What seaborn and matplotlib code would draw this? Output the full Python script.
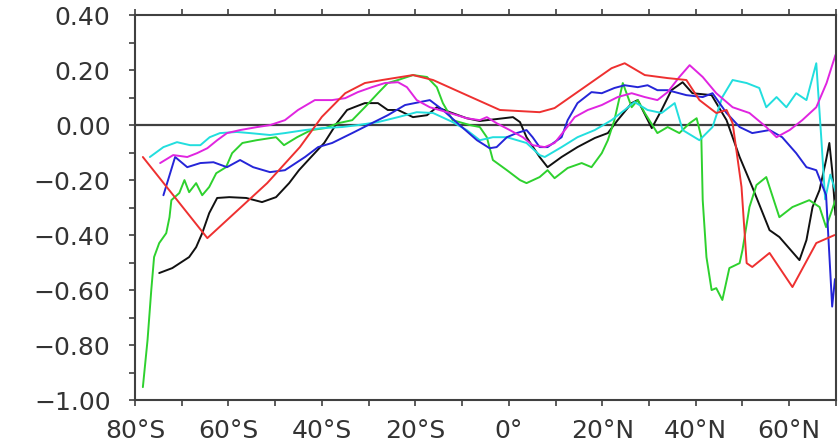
import pandas as pd
import matplotlib
matplotlib.use("Agg")
import matplotlib.pyplot as plt
import seaborn as sns
from matplotlib.ticker import FixedLocator, FuncFormatter

# zonal mean curves, latitude (deg, S negative) vs value
red_lat = [-78.3, -64.5, -51.7, -44.7, -40.0, -35.0, -30.8, -27.1, -20.5, -16.2, -9.0, -1.9, 6.6, 9.8,
           16.2, 22.0, 24.8, 29.1, 34.0, 38.0, 40.8, 44.4, 46.6, 47.9, 49.8, 50.9, 52.1, 55.8, 60.7,
           65.8, 69.7]
red_val = [-0.116, -0.411, -0.211, -0.08, 0.03, 0.116, 0.153, 0.164, 0.182, 0.164, 0.109, 0.055, 0.047,
           0.062, 0.138, 0.207, 0.225, 0.182, 0.171, 0.164, 0.091, 0.044, 0.055, 0.007, -0.225, -0.502,
           -0.516, -0.465, -0.589, -0.429, -0.40]

blue_lat = [-73.9, -71.4, -68.8, -66.0, -63.2, -60.3, -57.5, -54.7, -51.1, -47.9, -43.6, -40.8, -37.8,
            -33.5, -29.3, -25.9, -22.2, -16.9, -14.1, -10.5, -6.8, -4.1, -2.6, -0.4, 1.7, 3.8, 5.1, 6.6,
            8.3, 11.3, 12.6, 14.7, 17.7, 19.9, 22.6, 24.8, 27.6, 29.7, 31.8, 34.0, 38.0, 41.5, 43.6, 46.6,
            49.4, 52.1, 55.8, 58.5, 61.5, 63.7, 65.8, 67.9, 69.2, 69.8]
blue_val = [-0.255, -0.116, -0.153, -0.138, -0.135, -0.153, -0.127, -0.153, -0.171, -0.164, -0.116,
            -0.08, -0.065, -0.029, 0.007, 0.036, 0.073, 0.091, 0.055, 0.0, -0.055, -0.084, -0.08, -0.044,
            -0.029, -0.018, -0.044, -0.08, -0.08, -0.044, 0.018, 0.08, 0.12, 0.116, 0.135, 0.145, 0.138,
            0.145, 0.127, 0.127, 0.109, 0.102, 0.116, 0.044, -0.007, -0.029, -0.018, -0.044, -0.102,
            -0.153, -0.164, -0.255, -0.66, -0.56]

magenta_lat = [-74.6, -71.8, -68.8, -66.7, -64.5, -62.4, -60.3, -57.5, -53.8, -51.1, -47.9, -45.1, -41.5,
               -37.8, -35.0, -32.3, -29.3, -26.5, -23.7, -21.8, -19.7, -16.9, -12.6, -9.0, -6.2, -4.7,
               -2.6, 0.2, 3.0, 5.1, 7.7, 9.8, 12.0, 14.1, 16.9, 19.9, 23.3, 26.3, 29.1, 31.8, 34.0, 36.5,
               38.7, 41.5, 44.4, 47.9, 51.5, 55.1, 57.3, 60.1, 62.8, 65.8, 68.0, 69.9]
magenta_val = [-0.138, -0.109, -0.116, -0.102, -0.084, -0.055, -0.029, -0.018, -0.007, 0.0, 0.018, 0.055,
               0.091, 0.091, 0.098, 0.12, 0.138, 0.153, 0.156, 0.138, 0.091, 0.065, 0.044, 0.025, 0.018,
               0.029, 0.007, -0.018, -0.044, -0.073, -0.08, -0.065, -0.018, 0.029, 0.055, 0.073, 0.102,
               0.116, 0.102, 0.091, 0.12, 0.175, 0.218, 0.175, 0.116, 0.065, 0.044, -0.007, -0.044,
               -0.018, 0.018, 0.065, 0.153, 0.255]

cyan_lat = [-76.8, -73.9, -71.0, -68.2, -66.0, -64.0, -61.8, -58.2, -55.4, -51.1, -47.9, -43.6, -40.0,
            -35.7, -32.3, -28.0, -23.7, -19.7, -16.2, -12.0, -9.0, -6.2, -3.4, -0.4, 3.8, 6.6, 7.7, 11.3,
            14.7, 18.4, 22.0, 24.8, 26.9, 29.7, 32.7, 35.5, 37.2, 40.8, 43.6, 45.7, 47.9, 50.9, 53.6, 55.1,
            57.3, 59.4, 61.5, 63.7, 65.8, 66.9, 67.7, 68.8, 69.9]
cyan_val = [-0.116, -0.08, -0.062, -0.073, -0.073, -0.044, -0.029, -0.025, -0.029, -0.036, -0.029,
            -0.018, -0.011, -0.007, 0.0, 0.011, 0.029, 0.047, 0.044, 0.011, -0.018, -0.055, -0.044,
            -0.044, -0.065, -0.109, -0.116, -0.08, -0.044, -0.018, 0.018, 0.055, 0.084, 0.055, 0.044,
            0.08, -0.018, -0.055, -0.007, 0.102, 0.164, 0.153, 0.135, 0.065, 0.102, 0.065, 0.116, 0.091,
            0.225, -0.055, -0.27, -0.18, -0.24]

green_lat = [-78.3, -77.3, -76.5, -75.9, -74.8, -73.3, -72.6, -72.2, -70.5, -69.4, -68.4, -66.9, -65.6,
             -64.1, -62.6, -60.5, -59.2, -57.0, -54.0, -49.8, -48.1, -45.3, -42.3, -39.3, -36.5, -33.5,
             -30.8, -28.0, -25.9, -23.7, -20.5, -17.5, -15.4, -14.1, -12.0, -8.3, -6.2, -4.7, -3.4, -0.4,
             2.4, 3.8, 6.6, 8.3, 9.8, 12.6, 15.6, 17.7, 19.9, 21.2, 22.6, 24.4, 26.3, 27.6, 29.1, 31.8,
             34.0, 36.5, 38.7, 40.2, 41.2, 41.5, 42.3, 43.4, 44.4, 45.7, 47.2, 49.4, 50.0, 51.5, 53.0,
             55.1, 57.9, 60.7, 64.3, 66.5, 67.9, 69.9]
green_val = [-0.953, -0.782, -0.60, -0.48, -0.429, -0.393, -0.335, -0.273, -0.247, -0.20, -0.244, -0.211,
             -0.255, -0.225, -0.175, -0.153, -0.102, -0.065, -0.055, -0.044, -0.073, -0.044, -0.018,
             -0.011, 0.007, 0.018, 0.065, 0.116, 0.153, 0.164, 0.182, 0.175, 0.138, 0.08, 0.018, 0.0,
             -0.007, -0.044, -0.127, -0.164, -0.20, -0.211, -0.189, -0.164, -0.193, -0.156, -0.138,
             -0.153, -0.102, -0.055, 0.018, 0.153, 0.065, 0.091, 0.044, -0.029, -0.007, -0.029, 0.007,
             0.025, -0.044, -0.273, -0.48, -0.60, -0.593, -0.636, -0.52, -0.502, -0.455, -0.298, -0.218,
             -0.189, -0.335, -0.298, -0.273, -0.298, -0.371, -0.273]

black_lat = [-74.8, -72.0, -68.4, -66.9, -65.6, -64.1, -62.4, -59.8, -56.2, -52.8, -49.8, -47.0, -44.9,
             -42.3, -39.5, -36.8, -34.6, -33.1, -30.8, -28.0, -25.9, -23.7, -20.5, -17.5, -15.4, -12.6,
             -9.0, -6.2, -2.6, 0.9, 2.4, 3.8, 6.6, 8.3, 11.3, 14.7, 18.4, 21.2, 23.3, 26.3, 27.6, 30.6,
             32.7, 34.8, 37.2, 39.3, 43.4, 46.6, 49.4, 52.1, 55.8, 57.9, 62.2, 63.7, 65.0, 66.5, 67.9,
             68.6, 69.2, 69.9]
black_val = [-0.538, -0.52, -0.48, -0.444, -0.393, -0.32, -0.265, -0.262, -0.265, -0.28, -0.262, -0.211,
             -0.164, -0.116, -0.065, 0.007, 0.055, 0.065, 0.08, 0.08, 0.055, 0.055, 0.029, 0.036, 0.065,
             0.047, 0.025, 0.015, 0.022, 0.029, 0.011, -0.044, -0.116, -0.153, -0.116, -0.08, -0.047,
             -0.029, 0.018, 0.08, 0.091, -0.011, 0.055, 0.127, 0.156, 0.116, 0.109, 0.018, -0.116, -0.225,
             -0.382, -0.407, -0.491, -0.418, -0.298, -0.236, -0.127, -0.065, -0.164, -0.327]

x_ticks = [-80, -60, -40, -20, 0, 20, 40, 60]
y_ticks = [-1.0, -0.8, -0.6, -0.4, -0.2, 0.0, 0.2, 0.4]

series = {
    "black": (black_lat, black_val),
    "green": (green_lat, green_val),
    "cyan": (cyan_lat, cyan_val),
    "blue": (blue_lat, blue_val),
    "magenta": (magenta_lat, magenta_val),
    "red": (red_lat, red_val),
}
colors = {"black": "#111111", "green": "#2ed12e", "cyan": "#22dede", "blue": "#2525d8",
          "magenta": "#e025e0", "red": "#ee3030"}

df = pd.concat([pd.DataFrame({"lat": la, "value": va, "run": name})
                for name, (la, va) in series.items()], ignore_index=True)

sns.set_theme(style="ticks")
plt.rcParams["font.family"] = ["DejaVu Sans"]

fig = plt.figure(figsize=(8.38, 4.45), dpi=100)
ax = fig.add_axes([0.161, 0.101, 0.8365, 0.865])

ax.axhline(0, color="#404040", lw=1.6, zorder=1)
sns.lineplot(data=df, x="lat", y="value", hue="run", palette=colors, estimator=None,
             sort=False, lw=1.4, legend=False, ax=ax)

ax.set_xlim(-80, 70)
ax.set_ylim(-1.0, 0.4)
ax.set_xlabel("")
ax.set_ylabel("")


def lat_fmt(v, pos):
    v = int(round(v))
    if v == 0:
        return "0°"
    return f"{abs(v)}°S" if v < 0 else f"{v}°N"


ax.xaxis.set_major_locator(FixedLocator(x_ticks))
ax.xaxis.set_minor_locator(FixedLocator(list(range(-70, 80, 20))))
ax.xaxis.set_major_formatter(FuncFormatter(lat_fmt))
ax.yaxis.set_major_locator(FixedLocator(y_ticks))
ax.yaxis.set_minor_locator(FixedLocator([-0.9, -0.7, -0.5, -0.3, -0.1, 0.1, 0.3]))
ax.yaxis.set_major_formatter(FuncFormatter(lambda v, p: f"{round(v, 2) + 0.0:.2f}".replace("-", "\u2212")))

for s in ax.spines.values():
    s.set_color("#404040")
    s.set_linewidth(1.5)
    s.set_visible(True)

ax.tick_params(which="both", direction="out", length=4.5, width=1.2, color="#404040",
               top=True, right=False, labeltop=False)
ax.tick_params(axis="y", labelsize=18, pad=13, labelcolor="#333333")
ax.tick_params(axis="x", labelsize=18, pad=9, labelcolor="#333333")

fig.savefig("out.png", dpi=100)
